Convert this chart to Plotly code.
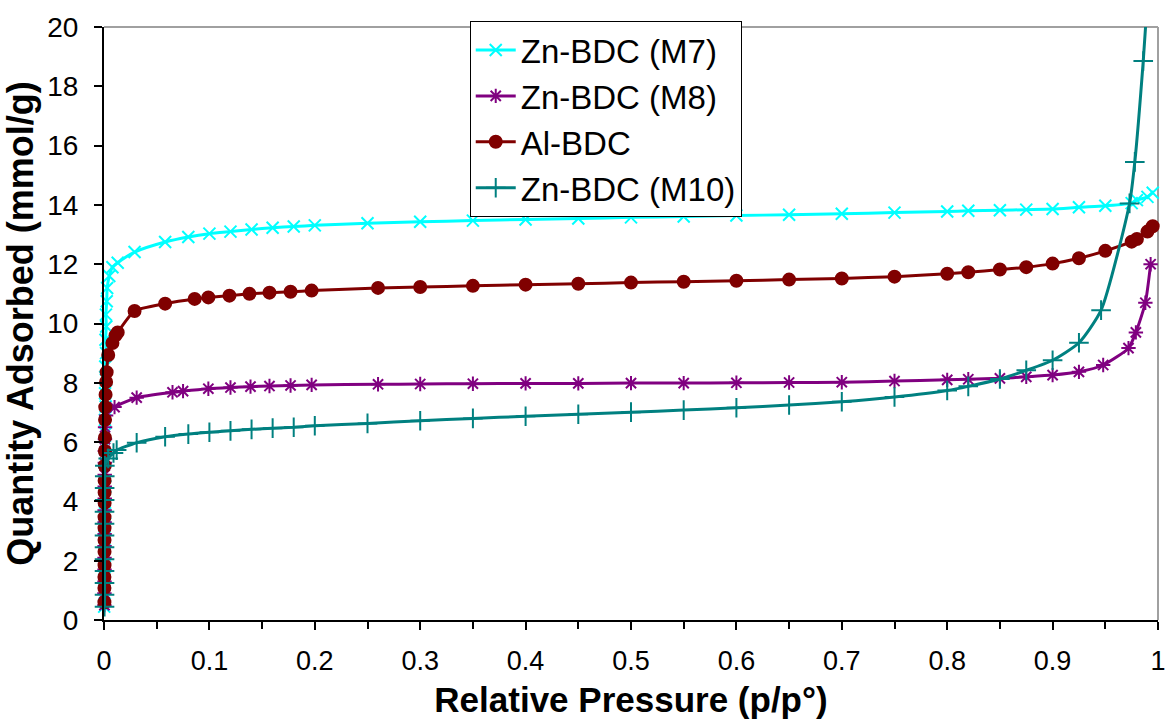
import plotly.graph_objects as go

# Nitrogen adsorption isotherms (77 K) for the MOF samples
m7_p = [0.0002, 0.0006, 0.0003, 0.0008, 0.0004, 0.0009, 0.0005, 0.0010, 0.0006, 0.0012,
        0.0007, 0.0013, 0.0008, 0.0015, 0.0009, 0.0016, 0.0010, 0.0018, 0.0012, 0.0020,
        0.0014, 0.0022, 0.0018, 0.0026, 0.0030,
        0.005, 0.008, 0.013, 0.029, 0.058, 0.080, 0.100, 0.120, 0.140, 0.160, 0.180, 0.200,
        0.250, 0.300, 0.350, 0.400, 0.450, 0.500, 0.550, 0.600, 0.650, 0.700, 0.750, 0.800,
        0.820, 0.850, 0.875, 0.900, 0.925, 0.950, 0.975, 0.980, 0.990, 0.995]
m7_q = [0.45, 0.90, 1.35, 1.80, 2.25, 2.70, 3.15, 3.60, 4.05, 4.50,
        4.95, 5.40, 5.85, 6.30, 6.75, 7.20, 7.65, 8.10, 8.55, 9.00,
        9.45, 9.90, 10.30, 10.75, 11.20,
        11.60, 11.90, 12.05, 12.41, 12.75, 12.92, 13.03, 13.10, 13.17, 13.23, 13.27, 13.31,
        13.38, 13.43, 13.47, 13.51, 13.54, 13.58, 13.61, 13.64, 13.67, 13.70, 13.74, 13.78,
        13.80, 13.82, 13.84, 13.86, 13.92, 13.97, 14.06, 14.16, 14.27, 14.41]

m8_p = [0.0004, 0.0004, 0.0005, 0.0005, 0.0005, 0.0005, 0.0006, 0.0006, 0.0006,
        0.0007, 0.0007, 0.0007, 0.0008, 0.0008, 0.0009, 0.0010, 0.0020,
        0.010, 0.031, 0.065, 0.075, 0.099, 0.120, 0.139, 0.157, 0.177, 0.197,
        0.260, 0.300, 0.350, 0.400, 0.450, 0.500, 0.550, 0.600, 0.650, 0.700, 0.750, 0.800,
        0.820, 0.850, 0.875, 0.900, 0.925, 0.948, 0.972, 0.979, 0.988, 0.993]
m8_q = [0.50, 0.90, 1.30, 1.70, 2.10, 2.50, 2.90, 3.30, 3.70,
        4.10, 4.50, 4.90, 5.30, 5.70, 6.10, 6.50, 6.90,
        7.18, 7.50, 7.68, 7.72, 7.80, 7.84, 7.87, 7.89, 7.91, 7.93,
        7.95, 7.96, 7.97, 7.98, 7.98, 7.99, 7.99, 8.00, 8.01, 8.02, 8.06, 8.10,
        8.12, 8.15, 8.20, 8.26, 8.37, 8.60, 9.17, 9.70, 10.70, 12.00]

al_p = [0.0004, 0.0004, 0.0004, 0.0005, 0.0005, 0.0005, 0.0005, 0.0005, 0.0006, 0.0006,
        0.0006, 0.0007, 0.0008, 0.0009, 0.0010, 0.0012, 0.0015, 0.0020, 0.0025,
        0.004, 0.008, 0.011, 0.013, 0.029, 0.058, 0.086, 0.099, 0.119, 0.138, 0.157, 0.177,
        0.197, 0.260, 0.300, 0.350, 0.400, 0.450, 0.500, 0.550, 0.600, 0.650, 0.700, 0.750,
        0.800, 0.820, 0.850, 0.875, 0.900, 0.925, 0.950, 0.975, 0.980, 0.990, 0.995]
al_q = [0.60, 1.08, 1.45, 1.85, 2.30, 2.70, 3.10, 3.47, 3.95, 4.30,
        4.70, 5.20, 5.70, 6.15, 6.75, 7.18, 7.60, 8.03, 8.36,
        8.94, 9.34, 9.60, 9.70, 10.42, 10.67, 10.83, 10.88, 10.94, 11.00, 11.04, 11.07,
        11.11, 11.20, 11.23, 11.27, 11.31, 11.34, 11.38, 11.41, 11.44, 11.48, 11.52, 11.58,
        11.68, 11.73, 11.82, 11.90, 12.02, 12.20, 12.45, 12.76, 12.85, 13.10, 13.28]

m10_p = [0.0005, 0.0005, 0.0005, 0.0005, 0.0005, 0.0005, 0.0005, 0.0005, 0.0005,
         0.0006, 0.0006, 0.0007, 0.0008, 0.004,
         0.009, 0.012, 0.031, 0.058, 0.080, 0.100, 0.120, 0.140, 0.160, 0.180, 0.200,
         0.250, 0.300, 0.350, 0.400, 0.450, 0.500, 0.550, 0.600, 0.650, 0.700, 0.750, 0.800,
         0.820, 0.850, 0.875, 0.900, 0.925, 0.946, 0.973, 0.978, 0.986, 0.992]
m10_q = [0.45, 0.85, 1.25, 1.65, 2.05, 2.45, 2.85, 3.25, 3.65,
         4.05, 4.45, 4.85, 5.20, 5.45,
         5.63, 5.73, 5.98, 6.18, 6.27, 6.33, 6.38, 6.43, 6.47, 6.50, 6.55,
         6.63, 6.72, 6.80, 6.87, 6.94, 7.01, 7.08, 7.16, 7.25, 7.36, 7.52, 7.74,
         7.88, 8.13, 8.42, 8.76, 9.35, 10.45, 14.05, 15.45, 18.85, 22.00]

series = [
    ("Zn-BDC (M7)", m7_p, m7_q, "#00FFFF", "x-thin-open", 12),
    ("Zn-BDC (M8)", m8_p, m8_q, "#800080", "asterisk-open", 12),
    ("Al-BDC", al_p, al_q, "#800000", "circle", 12),
    ("Zn-BDC (M10)", m10_p, m10_q, "#008080", "cross-thin-open", 14),
]

FONT = "Liberation Sans, Arial, sans-serif"

fig = go.Figure()
for name, p, q, color, symbol, size in series:
    fig.add_trace(go.Scatter(
        x=p, y=q, name=name, mode="lines+markers",
        line=dict(color=color, width=3, shape="spline", smoothing=0.6),
        marker=dict(symbol=symbol, size=size, color=color,
                    line=dict(color=color, width=2)),
        cliponaxis=False,
    ))

# grey frame on the top and right of the plotting area
fig.add_shape(type="line", xref="x domain", yref="y domain", x0=0, x1=1, y0=1, y1=1,
              line=dict(color="#a0a0a0", width=2), layer="below")
fig.add_shape(type="line", xref="x domain", yref="y domain", x0=1, x1=1, y0=0, y1=1,
              line=dict(color="#a0a0a0", width=2), layer="below")

fig.update_layout(
    width=1165, height=719,
    margin=dict(l=104, r=7, t=27, b=99, autoexpand=False),
    paper_bgcolor="white", plot_bgcolor="white",
    font=dict(family=FONT, color="black"),
    showlegend=True,
    legend=dict(
        x=0.347, y=1.01, xanchor="left", yanchor="top",
        bgcolor="white", bordercolor="black", borderwidth=1,
        font=dict(size=33, family=FONT),
        itemwidth=40,
    ),
    xaxis=dict(
        range=[0, 1], automargin=False,
        tickvals=[0, 0.1, 0.2, 0.3, 0.4, 0.5, 0.6, 0.7, 0.8, 0.9, 1],
        ticktext=["0", "0.1", "0.2", "0.3", "0.4", "0.5", "0.6", "0.7", "0.8", "0.9", "1"],
        ticks="outside", ticklen=8, tickwidth=1.5, tickcolor="black",
        minor=dict(tickvals=[0.05, 0.15, 0.25, 0.35, 0.45, 0.55, 0.65, 0.75, 0.85, 0.95],
                   ticks="outside", ticklen=7, tickwidth=1.5, tickcolor="black"),
        showline=True, linecolor="black", linewidth=2,
        showgrid=False, zeroline=False,
        tickfont=dict(size=27, family=FONT),
        ticklabelstandoff=8,
        ticklabeloverflow="allow",
        title=dict(text="<b>Relative Pressure (p/p°)</b>", font=dict(size=35, family=FONT),
                   standoff=13),
    ),
    yaxis=dict(
        range=[0, 20], dtick=2, automargin=False,
        ticks="outside", ticklen=8, tickwidth=1.5, tickcolor="black",
        showline=True, linecolor="black", linewidth=2,
        showgrid=False, zeroline=False,
        tickfont=dict(size=28, family=FONT),
        ticklabelstandoff=10,
        title=dict(text="<b>Quantity Adsorbed (mmol/g)</b>", font=dict(size=36, family=FONT),
                   standoff=4),
    ),
)

fig.write_html("out.html")
